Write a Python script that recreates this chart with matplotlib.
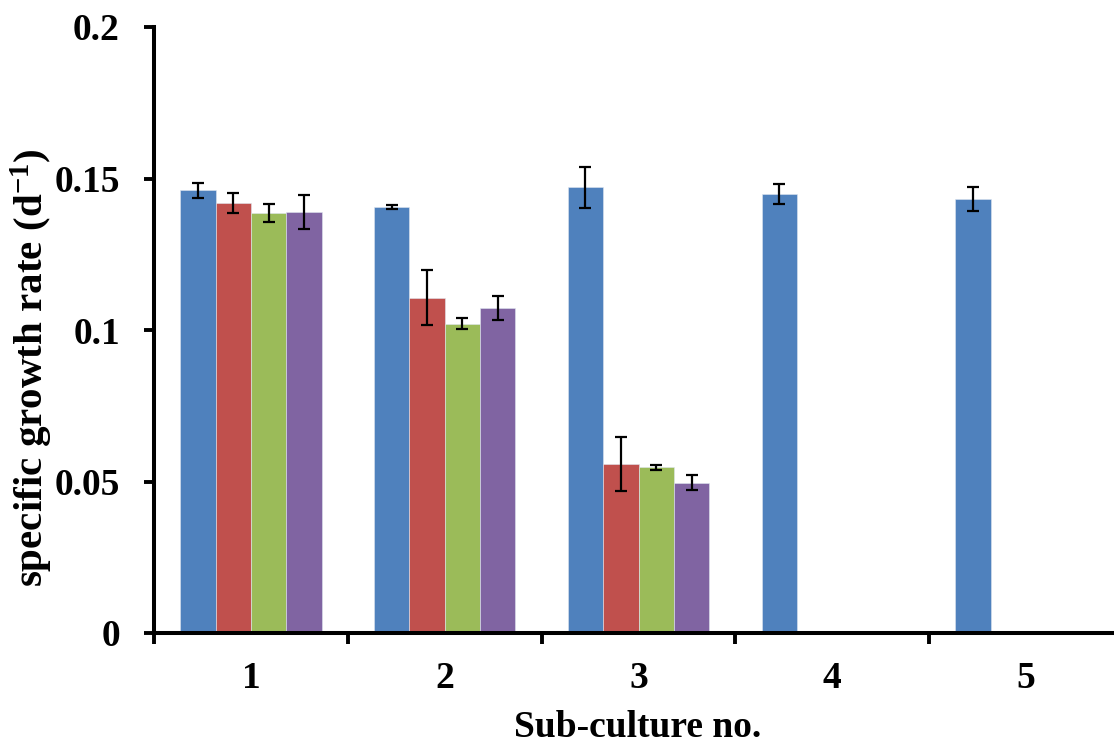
import matplotlib
matplotlib.use("Agg")
import matplotlib.pyplot as plt
import numpy as np

categories = ["1", "2", "3", "4", "5"]
series_a = [0.1461, 0.1406, 0.1471, 0.1448, 0.1433]
series_a_err = [0.0024, 0.0008, 0.0068, 0.0033, 0.0039]
series_b = [0.1418, 0.1107, 0.0558]
series_b_err = [0.0033, 0.0091, 0.0089]
series_c = [0.1387, 0.1020, 0.0547]
series_c_err = [0.0030, 0.0018, 0.0009]
series_d = [0.1389, 0.1072, 0.0496]
series_d_err = [0.0055, 0.0040, 0.0025]
y_ticks = [0, 0.05, 0.1, 0.15, 0.2]
y_tick_labels = ["0", "0.05", "0.1", "0.15", "0.2"]

colors = ["#4F81BD", "#C0504D", "#9BBB59", "#8064A2"]

plt.rcParams['font.family'] = ['Liberation Serif', 'DejaVu Serif']
plt.rcParams['font.weight'] = 'bold'
plt.rcParams['mathtext.fontset'] = 'custom'
plt.rcParams['mathtext.rm'] = 'Liberation Serif:bold'
plt.rcParams['mathtext.it'] = 'Liberation Serif:bold'
plt.rcParams['mathtext.bf'] = 'Liberation Serif:bold'
plt.rcParams['mathtext.default'] = 'rm'

fig = plt.figure(figsize=(11.14, 7.44), dpi=100)
ax = fig.add_axes([154/1114, 1-633/744, (1123-154)/1114, (633-27)/744])

w = 0.1825
offsets = [-1.5*w, -0.5*w, 0.5*w, 1.5*w]
all_series = [(series_a, series_a_err), (series_b, series_b_err),
              (series_c, series_c_err), (series_d, series_d_err)]
for i, (vals, errs) in enumerate(all_series):
    x = np.arange(len(vals)) + offsets[i]
    ax.bar(x, vals, width=w, color=colors[i], edgecolor='#dfe6f0', linewidth=0.4, zorder=2)
    ax.errorbar(x, vals, yerr=errs, fmt='none', ecolor='black', elinewidth=1.6,
                capsize=4.3, capthick=1.6, zorder=3)

ax.set_xlim(-0.5, 4.5)
ax.set_ylim(0, 0.2)
ax.set_yticks(y_ticks)
ax.set_yticklabels(y_tick_labels, fontsize=27, fontweight='bold')
ax.set_xticks(np.arange(len(categories)))
ax.set_xticklabels(categories, fontsize=27, fontweight='bold')
ax.set_xticks(np.arange(len(categories)) - 0.5, minor=True)
ax.tick_params(axis='x', which='major', length=0, pad=20)
ax.tick_params(axis='x', which='minor', length=8, width=2.8, direction='out')
ax.tick_params(axis='y', which='major', length=7.5, width=2.8, direction='out', pad=17)

for s in ['top', 'right']:
    ax.spines[s].set_visible(False)
for s in ['left', 'bottom']:
    ax.spines[s].set_linewidth(2.9)

fig.text(32/1114, 1-368/744, 'specific growth rate (d$^{-1}$)', rotation=90,
         fontsize=29.5, fontweight='bold', ha='center', va='center')
fig.text(638/1114, 7/744, 'Sub-culture no.', fontsize=27, fontweight='bold',
         ha='center', va='baseline')

fig.savefig('out.png', dpi=100)
